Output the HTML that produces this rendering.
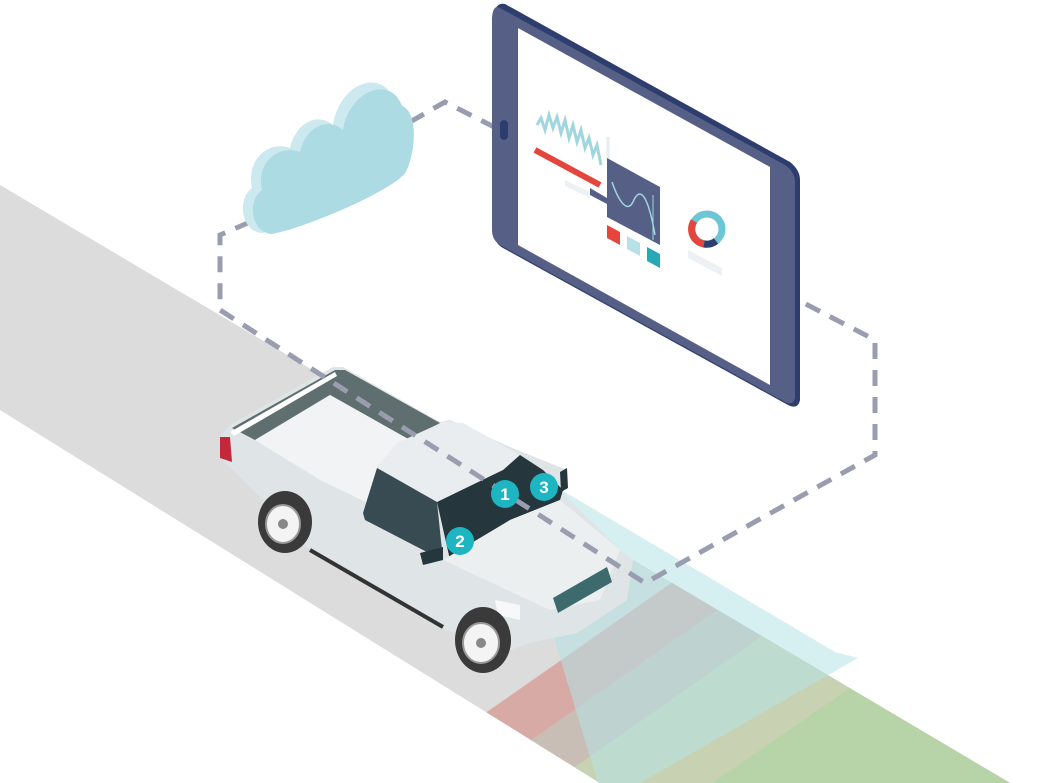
<!DOCTYPE html>
<html><head><meta charset="utf-8"><style>html,body{margin:0;padding:0;background:#fff;width:1055px;height:783px;overflow:hidden;}svg{display:block}</style></head>
<body>
<svg width="1055" height="783" viewBox="0 0 1055 783" xmlns="http://www.w3.org/2000/svg">
<defs>
<clipPath id="road"><polygon points="0,185 1010,783 600,783 0,410"/></clipPath>
</defs>
<g clip-path="url(#road)">
<rect x="0" y="0" width="1055" height="783" fill="#dcdcdc"/>
<polygon points="1507,-2 507,698 -493,1388 2000,1400" fill="#d8aaa6"/>
<polygon points="1550,27 550,727 -450,1417 2000,1400" fill="#c9beb6"/>
<polygon points="1595,53 595,753 -405,1443 2000,1400" fill="#c8d2b2"/>
<polygon points="1847,-10 847,690 -153,1380 2000,1400" fill="#b6d4a8"/>
</g>
<polygon points="512,500 548,482 835,652 858,658 640,783 598,783" fill="#b5e2e6" opacity="0.55"/>

<g>
<polygon points="220,437 230,425 333,367 343,367 440,422 450,420 510,447 567,470 563,493 620,550 633,560 627,600 577,633 530,643 510,650 437,627 310,550 280,517 220,457" fill="#dfe4e7"/>
<polygon points="232,428 335,370 345,370 440,423 410,440 330,395 255,440" fill="#5f6e6e"/>
<polygon points="255,440 330,395 410,440 378,466 372,505 320,480" fill="#f1f3f4"/>
<polygon points="230,432 335,372 337,376 234,436" fill="#fff"/>
<polygon points="220,437 230,437 232,462 220,458" fill="#c4283a"/>
<polygon points="377,467 397,443 443,422 463,423 520,455 503,470 437,502" fill="#e9edef"/>
<polygon points="363,513 377,468 437,502 443,560 423,550 365,520" fill="#384a52"/>
<polygon points="437,502 503,470 520,455 543,470 563,490 560,500 510,520 450,560" fill="#25363d"/>
<polygon points="420,553 443,547 443,560 423,565" fill="#25363d"/>
<polygon points="560,472 567,468 568,488 561,492" fill="#25363d"/>
<polygon points="443,560 510,520 560,500 620,550 600,600 550,610" fill="#eceff0"/>
<polygon points="553,598 607,567 612,582 558,613" fill="#3d6a6c"/>
<polygon points="495,600 520,605 520,620 498,615" fill="#f8f8f8"/>
<line x1="310" y1="550" x2="443" y2="627" stroke="#333" stroke-width="4"/>
<ellipse cx="285" cy="522" rx="27" ry="31" fill="#3a3a3a"/>
<ellipse cx="283" cy="524" rx="17" ry="19" fill="#f4f4f4" stroke="#999" stroke-width="2"/>
<circle cx="283" cy="524" r="5" fill="#888"/>
<ellipse cx="483" cy="640" rx="28" ry="33" fill="#3a3a3a"/>
<ellipse cx="481" cy="643" rx="18" ry="20" fill="#f4f4f4" stroke="#999" stroke-width="2"/>
<circle cx="481" cy="643" r="5" fill="#888"/>
</g>

<polyline points="250,222 220,235 220,310 645,583 875,455 875,340 798,300" fill="none" stroke="#9a9db0" stroke-width="5" stroke-dasharray="16,11"/>
<polyline points="410,122 445,102 500,130" fill="none" stroke="#9a9db0" stroke-width="5" stroke-dasharray="16,11"/>

<g>
<path d="M262,233 C242,232 236,200 252,188 C246,160 268,140 290,148 C296,122 318,112 333,125 C340,82 382,68 394,100 C410,102 414,138 402,168 C390,186 300,226 262,233 Z" fill="#cbe9ee"/>
<path d="M272,234 C252,233 246,202 262,190 C256,163 278,144 300,152 C306,126 328,117 343,130 C350,88 392,76 402,106 C416,110 418,145 406,172 C394,190 306,228 272,234 Z" fill="#acdbe3"/>
</g>

<g>
<path d="M505,4 L790,162 Q800,170 800,180 L800,400 Q798,410 788,405 L503,248 Q494,243 494,232 L494,14 Q496,2 505,4 Z" fill="#2d3e6e"/>
<path d="M500,8 L785,165 Q795,172 795,182 L795,398 Q793,406 785,402 L500,245 Q492,240 492,230 L492,18 Q493,4 500,8 Z" fill="#565f86"/>
<polygon points="518,28 770,167 770,385 518,245" fill="#fff"/>
<rect x="500" y="120" width="8" height="20" rx="4" fill="#2d3e6e"/>
<polyline points="537,125 541,118 545,130 549,115 553,128 557,117 561,133 565,120 569,138 573,125 577,142 581,130 585,148 589,138 593,155 597,145 601,165" fill="none" stroke="#9fd6df" stroke-width="3"/>
<line x1="535" y1="150" x2="600" y2="185" stroke="#e4463d" stroke-width="6"/>
<polygon points="565,180 590,192 590,198 565,186" fill="#eef1f4"/>
<line x1="608" y1="137" x2="608" y2="160" stroke="#e6ecf1" stroke-width="3"/>
<polygon points="607,158 660,187 660,245 607,217 607,204 590,195 590,188 607,198" fill="#565f86"/>
<path d="M612,182 C620,205 628,212 633,202 C640,185 648,195 655,235" fill="none" stroke="#9fd6df" stroke-width="1.5"/>
<line x1="653" y1="195" x2="653" y2="240" stroke="#9fd6df" stroke-width="1"/>
<polygon points="607,225 620,232 620,245 607,238" fill="#e4463d"/>
<polygon points="627,236 640,243 640,256 627,249" fill="#b6e1e6"/>
<polygon points="647,247 660,254 660,268 647,261" fill="#27a9b5"/>
<circle cx="707" cy="229" r="15" fill="none" stroke="#6cc6d3" stroke-width="7"/>
<path d="M694,221 A15,15 0 0,0 704,244" fill="none" stroke="#e4463d" stroke-width="7"/>
<path d="M704,244 A15,15 0 0,0 716,241" fill="none" stroke="#2d3e6e" stroke-width="7"/>
<polygon points="688,250 722,268 722,276 688,258" fill="#eef1f4"/>
</g>

<g font-family="Liberation Sans, sans-serif" font-weight="bold" font-size="17" fill="#fff" text-anchor="middle">
<circle cx="505" cy="494" r="14" fill="#1db5c2"/><text x="505" y="500">1</text>
<circle cx="460" cy="541" r="14" fill="#1db5c2"/><text x="460" y="547">2</text>
<circle cx="544" cy="487" r="14" fill="#1db5c2"/><text x="544" y="493">3</text>
</g>
</svg>
</body></html>
